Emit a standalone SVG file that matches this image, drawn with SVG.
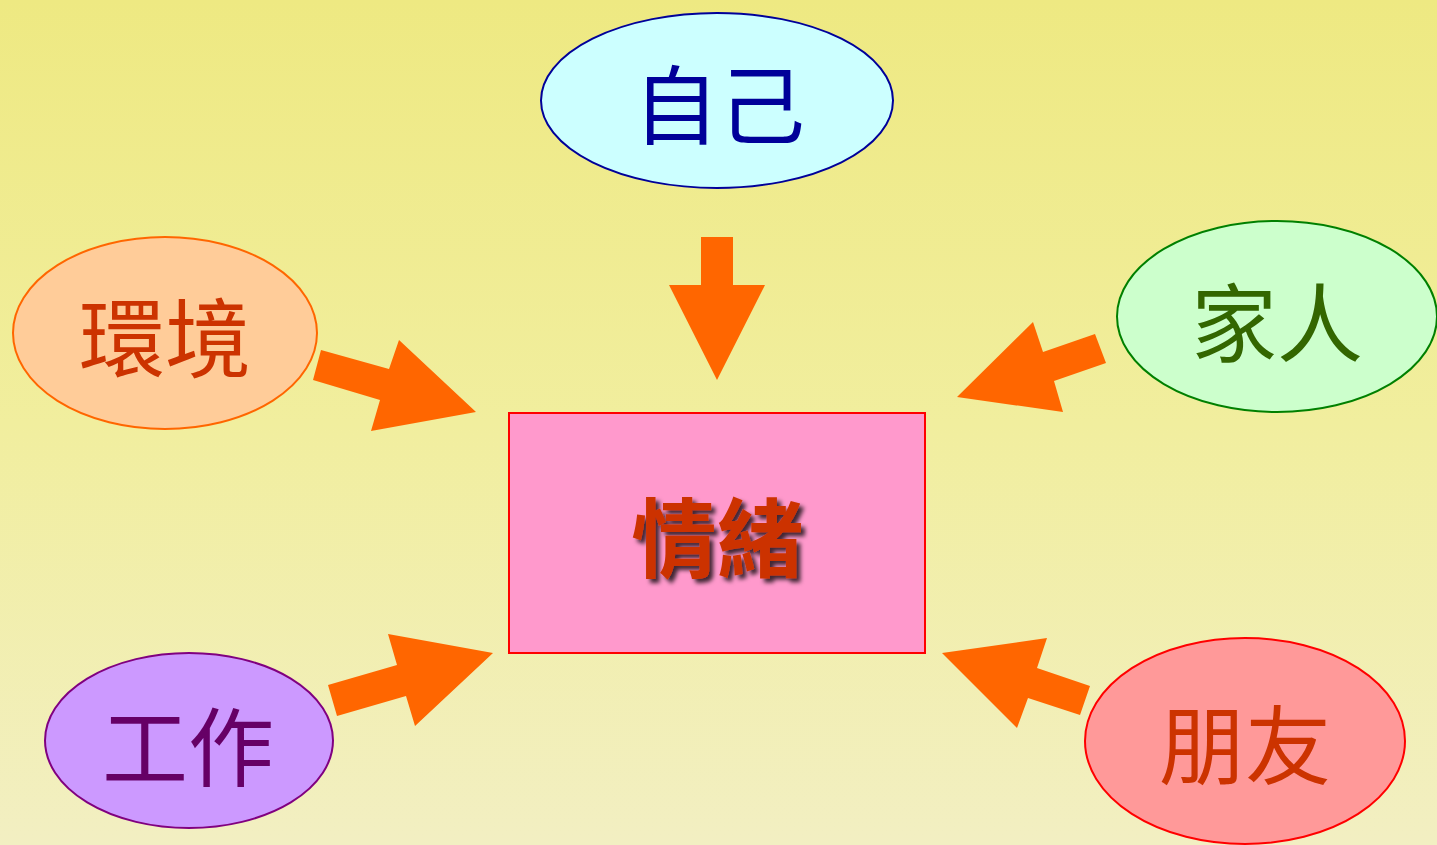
<svg xmlns="http://www.w3.org/2000/svg" width="1437" height="845" viewBox="0 0 1437 845">
<defs>
<linearGradient id="bg" x1="0" y1="0" x2="0" y2="1">
<stop offset="0" stop-color="#EEE982"/>
<stop offset="0.5" stop-color="#F1EE9E"/>
<stop offset="1" stop-color="#F2EFC2"/>
</linearGradient>
<filter id="shadow" x="-20%" y="-20%" width="140%" height="140%">
<feGaussianBlur in="SourceAlpha" stdDeviation="2"/>
<feOffset dx="4" dy="4" result="b"/>
<feFlood flood-color="#000000" flood-opacity="0.75"/>
<feComposite in2="b" operator="in" result="s"/>
<feMerge><feMergeNode in="s"/><feMergeNode in="SourceGraphic"/></feMerge>
</filter>
</defs>
<style>
text{font-family:"Noto Sans CJK TC","Noto Sans CJK SC",sans-serif;font-size:86px;text-anchor:middle;dominant-baseline:central}
.node ellipse,.node rect{stroke-width:2}
.arrow{fill:#FF6600}
</style>
<rect x="0" y="0" width="1437" height="845" fill="url(#bg)"/>
<g id="connectors">
<polygon class="arrow" points="701,237 733,237 733,285 765,285 717,380 669,285 701,285"/>
<polygon class="arrow" points="321,350 389,369 399,340 476,412 371,431 380,400 313,380"/>
<polygon class="arrow" points="1095,334 1106,363 1054,381 1063,412 957,397 1033,322 1043,352"/>
<polygon class="arrow" points="328,685 397,665 388,634 493,653 415,726 406,696 337,716"/>
<polygon class="arrow" points="942,653 1047,638 1037,668 1090,686 1080,715 1028,698 1017,728"/>
</g>
<g id="node-self" class="node">
<ellipse cx="717" cy="100.5" rx="176" ry="87.5" fill="#CCFFFF" stroke="#000099"/>
<text x="719" y="100" fill="#000099">自己</text>
</g>
<g id="node-env" class="node">
<ellipse cx="165" cy="333" rx="152" ry="96" fill="#FFCC99" stroke="#FF6600"/>
<text x="165" y="333" fill="#CC3300">環境</text>
</g>
<g id="node-family" class="node">
<ellipse cx="1277" cy="316.5" rx="160" ry="95.5" fill="#CCFFCC" stroke="#008000"/>
<text x="1277" y="318" fill="#336600">家人</text>
</g>
<g id="node-work" class="node">
<ellipse cx="189" cy="740.5" rx="144" ry="87.5" fill="#CC99FF" stroke="#800080"/>
<text x="188" y="742" fill="#660066">工作</text>
</g>
<g id="node-friends" class="node">
<ellipse cx="1245" cy="741" rx="160" ry="103" fill="#FF9999" stroke="#FF0000"/>
<text x="1245" y="740" fill="#CC3300">朋友</text>
</g>
<g id="node-emotion" class="node">
<rect x="509" y="413" width="416" height="240" fill="#FF99CC" stroke="#FF0000"/>
<text x="717" y="533" fill="#CC3300" font-weight="bold" filter="url(#shadow)">情緒</text>
</g>
</svg>
